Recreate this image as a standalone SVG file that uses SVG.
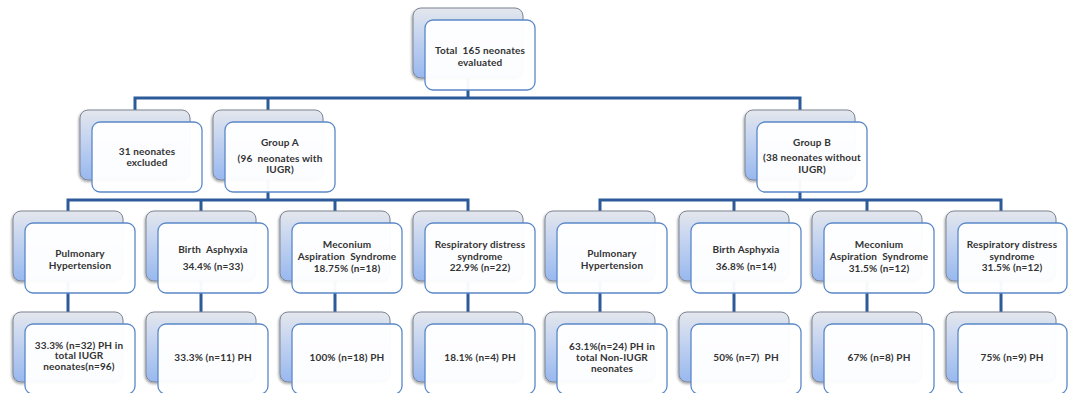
<svg xmlns="http://www.w3.org/2000/svg" width="1068" height="393" viewBox="0 0 1068 393">
<defs>
<linearGradient id="bg" x1="0" y1="0" x2="0" y2="1">
<stop offset="0" stop-color="#e4e7ec"/>
<stop offset="0.3" stop-color="#cdd9f0"/>
<stop offset="1" stop-color="#98b8ef"/>
</linearGradient>
<filter id="sh" x="-10%" y="-10%" width="125%" height="125%">
<feDropShadow dx="-1" dy="1.5" stdDeviation="1.2" flood-color="#000" flood-opacity="0.35"/>
</filter>
</defs>
<style>
.back{fill:url(#bg);stroke:#7d8594;stroke-width:1;filter:url(#sh)}
.front{fill:#ffffff;fill-opacity:0.96;stroke:#5a88c8;stroke-width:1.3}
.t{font-family:Lato,"Liberation Sans",sans-serif;font-size:10px;font-weight:700;fill:#333;text-anchor:middle;letter-spacing:0.15px}
.c{fill:none;stroke:#2d5a99;stroke-width:3;stroke-linejoin:miter}
</style>
<rect width="1068" height="393" fill="#ffffff"/>
<g id="connectors" class="c">
<path d="M468,78 V98 M135,110 V98 H800 V110 M268,98 V110"/>
<path d="M268,180 V200 M68,211 V200 H468 V211 M201,200 V211 M335,200 V211"/>
<path d="M800,180 V200 M600,211 V200 H1001 V211 M734,200 V211 M867,200 V211"/>
<path d="M68,281 V312 M201,281 V312 M335,281 V312 M468,281 V312 M600,281 V312 M734,281 V312 M867,281 V312 M1001,281 V312"/>
</g>
<g id="n-total"><rect class="back" x="413" y="8" width="110" height="70" rx="8"/><rect class="front" x="425" y="20" width="110" height="70" rx="8"/>
<text class="t" x="480" y="53.5" xml:space="preserve">Total  165 neonates</text><text class="t" x="480" y="66">evaluated</text></g>
<g id="n-excluded"><rect class="back" x="80" y="110" width="110" height="70" rx="8"/><rect class="front" x="92" y="122" width="110" height="70" rx="8"/>
<text class="t" x="147" y="154.5">31 neonates</text><text class="t" x="147" y="165.5">excluded</text></g>
<g id="n-groupA"><rect class="back" x="213" y="110" width="110" height="70" rx="8"/><rect class="front" x="225" y="122" width="110" height="70" rx="8"/>
<text class="t" x="280" y="146">Group A</text><text class="t" x="280" y="162" xml:space="preserve">(96  neonates with</text><text class="t" x="280" y="173">IUGR)</text></g>
<g id="n-groupB"><rect class="back" x="745" y="110" width="110" height="70" rx="8"/><rect class="front" x="757" y="122" width="110" height="70" rx="8"/>
<text class="t" x="812" y="146">Group B</text><text class="t" x="812" y="161">(38 neonates without</text><text class="t" x="812" y="173">IUGR)</text></g>
<g id="n-a-ph"><rect class="back" x="13" y="211" width="110" height="70" rx="8"/><rect class="front" x="25" y="223" width="110" height="70" rx="8"/>
<text class="t" x="80" y="256.5">Pulmonary</text><text class="t" x="80" y="268.5">Hypertension</text></g>
<g id="n-a-ba"><rect class="back" x="146" y="211" width="110" height="70" rx="8"/><rect class="front" x="158" y="223" width="110" height="70" rx="8"/>
<text class="t" x="213" y="252.5" xml:space="preserve">Birth  Asphyxia</text><text class="t" x="213" y="269.5">34.4% (n=33)</text></g>
<g id="n-a-mas"><rect class="back" x="280" y="211" width="110" height="70" rx="8"/><rect class="front" x="292" y="223" width="110" height="70" rx="8"/>
<text class="t" x="347" y="247.5">Meconium</text><text class="t" x="347" y="259.5" xml:space="preserve">Aspiration  Syndrome</text><text class="t" x="347" y="271.5">18.75% (n=18)</text></g>
<g id="n-a-rds"><rect class="back" x="413" y="211" width="110" height="70" rx="8"/><rect class="front" x="425" y="223" width="110" height="70" rx="8"/>
<text class="t" x="480" y="247.5">Respiratory distress</text><text class="t" x="480" y="259.5">syndrome</text><text class="t" x="480" y="270.5">22.9% (n=22)</text></g>
<g id="n-b-ph"><rect class="back" x="545" y="211" width="110" height="70" rx="8"/><rect class="front" x="557" y="223" width="110" height="70" rx="8"/>
<text class="t" x="612" y="256.5">Pulmonary</text><text class="t" x="612" y="268.5">Hypertension</text></g>
<g id="n-b-ba"><rect class="back" x="679" y="211" width="110" height="70" rx="8"/><rect class="front" x="691" y="223" width="110" height="70" rx="8"/>
<text class="t" x="746" y="252.5">Birth Asphyxia</text><text class="t" x="746" y="269.5">36.8% (n=14)</text></g>
<g id="n-b-mas"><rect class="back" x="812" y="211" width="110" height="70" rx="8"/><rect class="front" x="824" y="223" width="110" height="70" rx="8"/>
<text class="t" x="879" y="247.5">Meconium</text><text class="t" x="879" y="259.5" xml:space="preserve">Aspiration  Syndrome</text><text class="t" x="879" y="271.5">31.5% (n=12)</text></g>
<g id="n-b-rds"><rect class="back" x="946" y="211" width="110" height="70" rx="8"/><rect class="front" x="958" y="223" width="109" height="70" rx="8"/>
<text class="t" x="1012" y="247.5">Respiratory distress</text><text class="t" x="1012" y="259.5">syndrome</text><text class="t" x="1012" y="270.5">31.5% (n=12)</text></g>
<g id="n-a-ph2"><rect class="back" x="13" y="312" width="110" height="70" rx="8"/><rect class="front" x="25" y="324" width="110" height="70" rx="8"/>
<text class="t" x="79" y="348.5">33.3% (n=32) PH in</text><text class="t" x="79" y="359">total IUGR</text><text class="t" x="79" y="370">neonates(n=96)</text></g>
<g id="n-a-ba2"><rect class="back" x="146" y="312" width="110" height="70" rx="8"/><rect class="front" x="158" y="324" width="110" height="70" rx="8"/>
<text class="t" x="213" y="361">33.3% (n=11) PH</text></g>
<g id="n-a-mas2"><rect class="back" x="280" y="312" width="110" height="70" rx="8"/><rect class="front" x="292" y="324" width="110" height="70" rx="8"/>
<text class="t" x="347" y="361">100% (n=18) PH</text></g>
<g id="n-a-rds2"><rect class="back" x="413" y="312" width="110" height="70" rx="8"/><rect class="front" x="425" y="324" width="110" height="70" rx="8"/>
<text class="t" x="480" y="361">18.1% (n=4) PH</text></g>
<g id="n-b-ph2"><rect class="back" x="545" y="312" width="110" height="70" rx="8"/><rect class="front" x="557" y="324" width="110" height="70" rx="8"/>
<text class="t" x="612" y="349.5">63.1%(n=24) PH in</text><text class="t" x="612" y="360.5">total Non-IUGR</text><text class="t" x="612" y="371.5">neonates</text></g>
<g id="n-b-ba2"><rect class="back" x="679" y="312" width="110" height="70" rx="8"/><rect class="front" x="691" y="324" width="110" height="70" rx="8"/>
<text class="t" x="746" y="361" xml:space="preserve">50% (n=7)  PH</text></g>
<g id="n-b-mas2"><rect class="back" x="812" y="312" width="110" height="70" rx="8"/><rect class="front" x="824" y="324" width="110" height="70" rx="8"/>
<text class="t" x="879" y="361">67% (n=8) PH</text></g>
<g id="n-b-rds2"><rect class="back" x="946" y="312" width="110" height="70" rx="8"/><rect class="front" x="958" y="324" width="109" height="70" rx="8"/>
<text class="t" x="1012" y="361">75% (n=9) PH</text></g>
</svg>
